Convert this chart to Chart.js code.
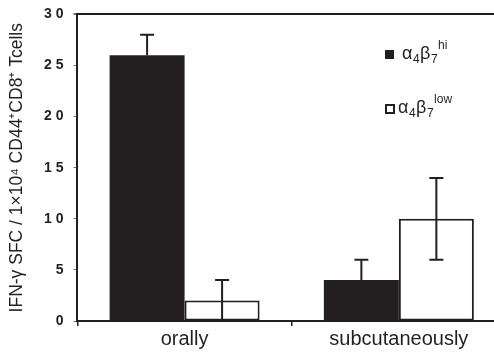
<!DOCTYPE html>
<html>
<head>
<meta charset="utf-8">
<script src="https://cdn.jsdelivr.net/npm/chart.js@4.4.1/dist/chart.umd.min.js"></script>
<style>
  html, body { margin: 0; padding: 0; background: #fff; overflow: hidden; }
  .wrap { width: 506px; height: 356px; position: relative; margin-top: -4px; }
</style>
</head>
<body>
<div class="wrap"><canvas id="chart"></canvas></div>
<script>
// data
const categories = ['orally', 'subcutaneously'];
const seriesNames = ['α₄β₇ʰⁱ', 'α₄β₇ˡᵒʷ'];
const seriesSup = ['hi', 'low'];
const hiValues = [26, 4];
const lowValues = [2, 10];
const hiErrUp = [2, 2];     // black bars only show the upper whisker
const lowErr = [2, 4];      // white bars show both whiskers
const yTicks = [0, 5, 10, 15, 20, 25, 30];

const ink = '#231f20';
const fontFam = '"Liberation Sans", Arial, sans-serif';

// error bars drawn on top of the bars
const errorBars = {
  id: 'errorBars',
  afterDatasetsDraw(chart) {
    const ctx = chart.ctx;
    const y = chart.scales.y;
    const errs = [[hiErrUp, null], [lowErr, lowErr]];
    ctx.save();
    ctx.strokeStyle = ink;
    ctx.lineWidth = 2;
    chart.data.datasets.forEach((ds, i) => {
      const meta = chart.getDatasetMeta(i);
      meta.data.forEach((bar, j) => {
        const v = ds.data[j];
        const up = errs[i][0][j];
        const down = errs[i][1] ? errs[i][1][j] : 0;
        const yTop = y.getPixelForValue(v + up);
        const yBot = y.getPixelForValue(v - down);
        ctx.beginPath();
        ctx.moveTo(bar.x, yTop);
        ctx.lineTo(bar.x, yBot);
        ctx.moveTo(bar.x - 7, yTop);
        ctx.lineTo(bar.x + 7, yTop);
        if (down > 0 && v - down > 0) {
          ctx.moveTo(bar.x - 7, yBot);
          ctx.lineTo(bar.x + 7, yBot);
        }
        ctx.stroke();
      });
    });
    ctx.restore();
  }
};

// legend with sub/superscripts, inside the plot at the top right
const customLegend = {
  id: 'customLegend',
  afterDraw(chart) {
    const ctx = chart.ctx;
    const x0 = 385;
    const rows = [63, 117]; // canvas is shifted up 4px
    ctx.save();
    ctx.textBaseline = 'alphabetic';
    chart.data.datasets.forEach((ds, i) => {
      const by = rows[i];
      // swatch
      if (i === 0) {
        ctx.fillStyle = ink;
        ctx.fillRect(x0, by - 9, 9, 9);
      } else {
        ctx.strokeStyle = ink;
        ctx.lineWidth = 2;
        ctx.strokeRect(x0 + 1, by - 8, 8, 8);
      }
      ctx.fillStyle = ink;
      let x = x0 + (i === 0 ? 17 : 13);
      const runs = [['α', 0], ['4', -1], ['β', 0], ['7', -1], [seriesSup[i], 1]];
      runs.forEach(([t, lvl]) => {
        const size = lvl === 0 ? 18 : 12;
        ctx.font = size + 'px ' + fontFam;
        const dy = lvl === -1 ? 4 : (lvl === 1 ? -10 : 0);
        ctx.fillText(t, x, by + dy);
        x += ctx.measureText(t).width + 0.5;
      });
    });
    ctx.restore();
  }
};

new Chart(document.getElementById('chart'), {
  type: 'bar',
  data: {
    labels: categories,
    datasets: [
      {
        label: seriesNames[0],
        data: hiValues,
        backgroundColor: ink,
        borderWidth: 0,
        categoryPercentage: 0.7,
        barPercentage: 1.0
      },
      {
        label: seriesNames[1],
        data: lowValues,
        backgroundColor: '#ffffff',
        borderColor: ink,
        borderWidth: 2,
        borderSkipped: false,
        categoryPercentage: 0.7,
        barPercentage: 1.0
      }
    ]
  },
  options: {
    responsive: true,
    maintainAspectRatio: false,
    animation: false,
    layout: { padding: { left: 7, top: 3, right: 0, bottom: 0 } },
    plugins: {
      legend: { display: false },
      tooltip: { enabled: false }
    },
    scales: {
      x: {
        grid: {
          drawOnChartArea: false,
          tickLength: 5,
          color: ink,
          lineWidth: 1.5
        },
        border: { color: ink, width: 2 },
        ticks: {
          color: ink,
          font: { family: fontFam, size: 20 },
          padding: 1
        }
      },
      y: {
        min: 0,
        max: 30,
        afterBuildTicks(scale) {
          scale.ticks = yTicks.map(v => ({ value: v }));
        },
        grid: {
          drawOnChartArea: true,
          color: c => (c.tick && c.tick.value === 30 ? ink : 'rgba(0,0,0,0)'),
          lineWidth: c => (c.tick && c.tick.value === 30 ? 2 : 1),
          tickColor: '#777',
          tickLength: 4
        },
        border: { color: ink, width: 2 },
        ticks: {
          color: ink,
          padding: 10,
          font: { family: fontFam, size: 14, weight: 'bold' },
          callback: v => String(v).split('').join(' ')
        },
        title: {
          display: true,
          text: 'IFN-γ SFC / 1×10⁴ CD44⁺CD8⁺ Tcells',
          color: ink,
          font: { family: fontFam, size: 17.5 },
          padding: { top: 0, bottom: 6 }
        }
      }
    }
  },
  plugins: [errorBars, customLegend]
});
</script>
</body>
</html>
